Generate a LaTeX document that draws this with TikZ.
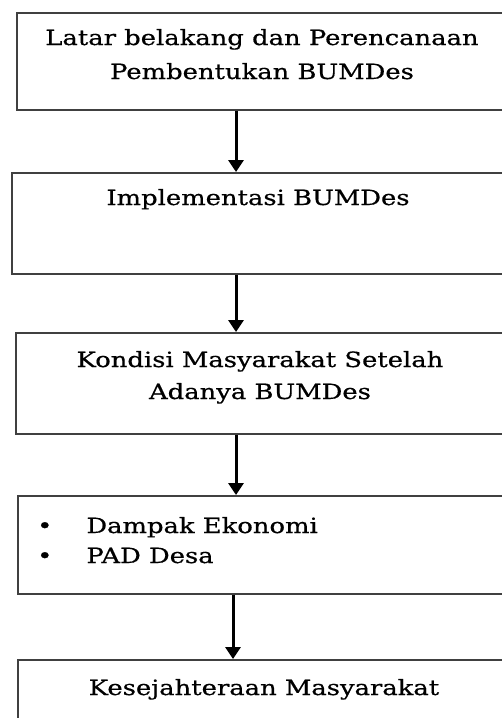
\documentclass[tikz,border=0pt]{standalone}
\usepackage{fontspec}
\setmainfont{DejaVu Serif}[FakeStretch=1.23,FakeBold=0.6]
\usetikzlibrary{arrows.meta}
\begin{document}
\begin{tikzpicture}[x=1pt,y=-1pt,
    kotak/.style={draw=black!75,line width=1.8pt,rectangle,inner sep=0pt,anchor=north west},
    teks/.style={font=\fontsize{21}{34}\selectfont,align=center,anchor=base,inner sep=0pt},
    panah/.style={line width=3pt,-{Triangle[width=15pt,length=12pt]}}]
    \useasboundingbox (0,0) rectangle (502,718);
    \clip (0,0) rectangle (502,718);

    % kotak-kotak alur
    \node[kotak,minimum width=492pt,minimum height=97pt] (latar) at (16,12) {};
    \node[kotak,minimum width=494pt,minimum height=101pt] (implementasi) at (11,172) {};
    \node[kotak,minimum width=492pt,minimum height=101pt] (kondisi) at (15,332) {};
    \node[kotak,minimum width=492pt,minimum height=98pt] (dampak) at (17,495) {};
    \node[kotak,minimum width=493pt,minimum height=100pt] (sejahtera) at (17,659) {};

    % isi teks (anchor base = baris terakhir)
    \node[teks] (latarteks) at (262,79) {Latar belakang dan Perencanaan\\Pembentukan BUMDes};
    \node[teks] (implteks) at (258,205) {Implementasi BUMDes};
    \node[teks,font=\fontsize{21}{32}\selectfont] (kondisiteks) at (260,399) {Kondisi Masyarakat Setelah\\Adanya BUMDes};
    \node[teks,align=left,anchor=base west,font=\fontsize{21}{30}\selectfont] (dampakteks) at (37,563)
        {•\hspace{34pt}Dampak Ekonomi\\•\hspace{34pt}PAD Desa};
    \node[teks] (sejahterateks) at (264,695) {Kesejahteraan Masyarakat};

    % panah
    \coordinate (poros) at (236,0);
    \coordinate (poros2) at (233,0);
    \draw[panah] (latar.south -| poros) -- (implementasi.north -| poros);
    \draw[panah] (implementasi.south -| poros) -- (kondisi.north -| poros);
    \draw[panah] (kondisi.south -| poros) -- (dampak.north -| poros);
    \draw[panah] (dampak.south -| poros2) -- (sejahtera.north -| poros2);
\end{tikzpicture}
\end{document}
